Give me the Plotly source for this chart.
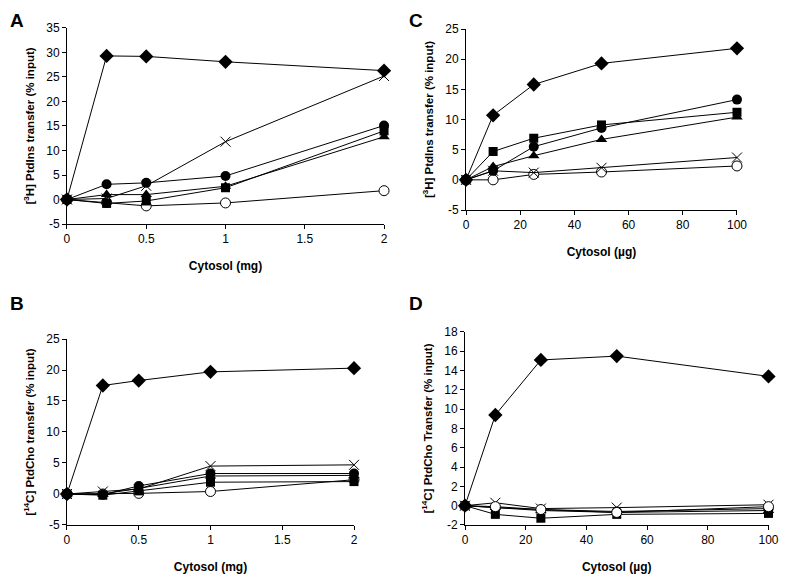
import plotly.graph_objects as go
from plotly.subplots import make_subplots

# x values (cytosol amount)
x_mg = [0, 0.25, 0.5, 1, 2]
x_ug = [0, 10, 25, 50, 100]

# Panel A: [3H] PtdIns transfer vs cytosol (mg)
a_diamond = [0, 29.3, 29.2, 28.1, 26.3]
a_cross = [0, 0.2, 2.8, 11.8, 25.2]
a_circle = [0, 3.1, 3.4, 4.8, 15.1]
a_square = [0, -0.8, -0.3, 2.4, 14.0]
a_triangle = [0, 1.0, 1.0, 2.7, 12.8]
a_open = [0, -0.6, -1.3, -0.7, 1.8]

# Panel B: [14C] PtdCho transfer vs cytosol (mg)
b_diamond = [0, 17.5, 18.3, 19.7, 20.3]
b_cross = [0, 0.4, 0.8, 4.5, 4.7]
b_circle = [0, -0.1, 1.3, 3.3, 3.3]
b_triangle = [0, 0.0, 0.9, 2.9, 3.0]
b_square = [0, -0.2, 0.5, 1.9, 2.0]
b_open = [0, 0.0, 0.1, 0.4, 2.3]

# Panel C: [3H] PtdIns transfer vs cytosol (ug)
c_diamond = [0, 10.7, 15.8, 19.3, 21.8]
c_circle = [0, 1.5, 5.5, 8.6, 13.3]
c_square = [0, 4.7, 6.9, 9.1, 11.2]
c_triangle = [0, 2.2, 4.0, 6.7, 10.4]
c_cross = [0, 1.5, 1.2, 2.0, 3.7]
c_open = [0, 0.0, 0.9, 1.3, 2.3]

# Panel D: [14C] PtdCho transfer vs cytosol (ug)
d_diamond = [0, 9.4, 15.1, 15.5, 13.4]
d_cross = [0, 0.3, -0.3, -0.2, 0.1]
d_circle = [0, -0.2, -0.4, -0.6, -0.3]
d_triangle = [0, -0.2, -0.5, -0.7, -0.5]
d_square = [0, -0.9, -1.3, -0.9, -0.8]
d_open = [0, -0.1, -0.4, -0.7, -0.1]

mg_ticks = [0, 0.5, 1, 1.5, 2]
ug_ticks = [0, 20, 40, 60, 80, 100]
y_ticks_a = [-5, 0, 5, 10, 15, 20, 25, 30, 35]
y_ticks_bc = [-5, 0, 5, 10, 15, 20, 25]
y_ticks_d = [-2, 0, 2, 4, 6, 8, 10, 12, 14, 16, 18]

styles = {
    "diamond": dict(symbol="diamond", size=11, color="black"),
    "cross": dict(symbol="x-thin", size=10, color="black", line=dict(width=1, color="black")),
    "circle": dict(symbol="circle", size=10, color="black"),
    "triangle": dict(symbol="triangle-up", size=10, color="black"),
    "square": dict(symbol="square", size=9, color="black"),
    "open": dict(symbol="circle", size=10, color="white", line=dict(width=1, color="black")),
}

fig = make_subplots(rows=2, cols=2)


def add_series(xs, series, row, col):
    for name, ys in series:
        fig.add_trace(go.Scatter(
            x=xs, y=ys, mode="lines+markers",
            line=dict(color="black", width=1),
            marker=styles[name],
            cliponaxis=False,
            showlegend=False,
        ), row=row, col=col)


add_series(x_mg, [("open", a_open), ("triangle", a_triangle), ("square", a_square),
                  ("circle", a_circle), ("cross", a_cross), ("diamond", a_diamond)], 1, 1)
add_series(x_ug, [("open", c_open), ("cross", c_cross), ("triangle", c_triangle),
                  ("circle", c_circle), ("square", c_square), ("diamond", c_diamond)], 1, 2)
add_series(x_mg, [("open", b_open), ("square", b_square), ("triangle", b_triangle),
                  ("circle", b_circle), ("cross", b_cross), ("diamond", b_diamond)], 2, 1)
add_series(x_ug, [("triangle", d_triangle), ("circle", d_circle), ("square", d_square),
                  ("cross", d_cross), ("open", d_open), ("diamond", d_diamond)], 2, 2)

axis_common = dict(
    showline=True, linecolor="black", linewidth=1, showgrid=False, zeroline=False,
    ticks="outside", ticklen=4, tickcolor="black", tickwidth=1, automargin=False,
    tickfont=dict(size=12, color="black"),
)


def tick_text(vals):
    return [str(v) for v in vals]


xt = dict(font=dict(size=12), standoff=16)
yt = dict(font=dict(size=11.5), standoff=9)

# panel A
fig.update_xaxes(axis_common, domain=[0.0756, 0.4821], range=[0, 2], tickvals=mg_ticks,
                 ticktext=tick_text(mg_ticks), row=1, col=1,
                 title=dict(text="<b>Cytosol (mg)</b>", **xt))
fig.update_yaxes(axis_common, domain=[0.6217, 0.9650], range=[-5, 35], tickvals=y_ticks_a,
                 ticktext=tick_text(y_ticks_a), row=1, col=1,
                 title=dict(text="<b>[<sup>3</sup>H] PtdIns transfer (% input)</b>", **yt))
# panel C
fig.update_xaxes(axis_common, domain=[0.5872, 0.9346], range=[0, 100], tickvals=ug_ticks,
                 ticktext=tick_text(ug_ticks), row=1, col=2,
                 title=dict(text="<b>Cytosol (µg)</b>", **xt))
fig.update_yaxes(axis_common, domain=[0.6462, 0.9632], range=[-5, 25], tickvals=y_ticks_bc,
                 ticktext=tick_text(y_ticks_bc), row=1, col=2,
                 title=dict(text="<b>[<sup>3</sup>H] PtdIns transfer (% input)</b>", **yt))
# panel B
fig.update_xaxes(axis_common, domain=[0.0756, 0.4436], range=[0, 2], tickvals=mg_ticks,
                 ticktext=tick_text(mg_ticks), row=2, col=1,
                 title=dict(text="<b>Cytosol (mg)</b>", **xt))
fig.update_yaxes(axis_common, domain=[0.0946, 0.4203], range=[-5, 25], tickvals=y_ticks_bc,
                 ticktext=tick_text(y_ticks_bc), row=2, col=1,
                 title=dict(text="<b>[<sup>14</sup>C] PtdCho transfer (% input)</b>", **yt))
# panel D
fig.update_xaxes(axis_common, domain=[0.5859, 0.975], range=[0, 100], tickvals=ug_ticks,
                 ticktext=tick_text(ug_ticks), row=2, col=2,
                 title=dict(text="<b>Cytosol (µg)</b>", **xt))
fig.update_yaxes(axis_common, domain=[0.0946, 0.4326], range=[-2, 18], tickvals=y_ticks_d,
                 ticktext=tick_text(y_ticks_d), row=2, col=2,
                 title=dict(text="<b>[<sup>14</sup>C] PtdCho Transfer (% input)</b>", **yt))

for label, x, y in [("A", 0.0, 1.0), ("C", 0.512, 1.0), ("B", 0.0, 0.504), ("D", 0.512, 0.504)]:
    fig.add_annotation(text=f"<b>{label}</b>", x=x, y=y, xref="paper", yref="paper",
                       xanchor="left", yanchor="top", showarrow=False,
                       font=dict(size=19, color="black"))

# page body adds an 8px margin, so the figure is sized to fit inside the window
fig.update_layout(
    width=780, height=571,
    margin=dict(l=0, r=0, t=0, b=0),
    paper_bgcolor="white", plot_bgcolor="white",
    font=dict(family="Arial, Liberation Sans, sans-serif", color="black"),
)

fig.write_html("out.html")
